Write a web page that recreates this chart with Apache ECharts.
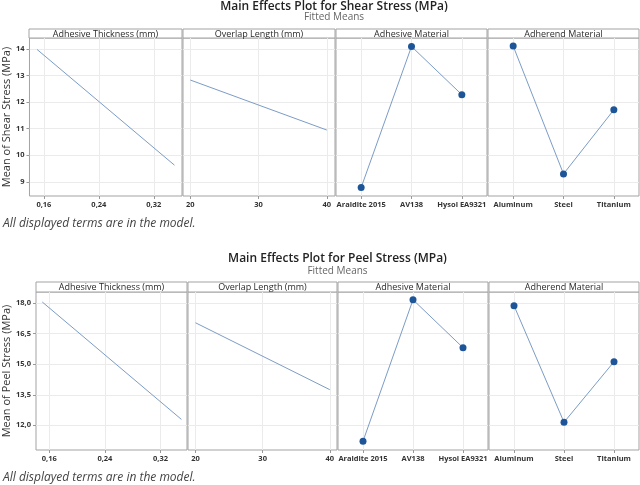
<!DOCTYPE html>
<html>
<head>
<meta charset="utf-8" />
<title>Main Effects Plot</title>
<script src="https://cdn.jsdelivr.net/npm/echarts@6/dist/echarts.min.js"></script>
<style>
  html, body { margin: 0; padding: 0; background: #fff; }
  #main { width: 640px; height: 485px; }
</style>
</head>
<body>
<div id="main"></div>
<script type="text/javascript">
// values
var thickness = [0.15, 0.35];
var overlap = [20, 40];
var adhesives = ['Araldite 2015', 'AV138', 'Hysol EA9321'];
var adherends = ['Aluminum', 'Steel', 'Titanium'];

var shearThickness = [13.98, 9.63];
var shearOverlap = [12.83, 10.95];
var shearAdhesive = [8.79, 14.09, 12.28];
var shearAdherend = [14.11, 9.30, 11.71];

var peelThickness = [18.05, 12.29];
var peelOverlap = [17.03, 13.75];
var peelAdhesive = [11.22, 18.16, 15.81];
var peelAdherend = [17.87, 12.15, 15.12];

var thicknessTicks = [0.16, 0.24, 0.32];
var overlapTicks = [20, 30, 40];
var shearTicks = [9, 10, 11, 12, 13, 14];
var peelTicks = [12.0, 13.5, 15.0, 16.5, 18.0];

var stripNames = ['Adhesive Thickness (mm)', 'Overlap Length (mm)', 'Adhesive Material', 'Adherend Material'];

var FONT = 'Open Sans';
var LINE = '#7c9cc6';
var DOT = '#1d5598';
var FRAME = '#a3a3a3';
var GRIDLINE = '#ebebeb';

function pairs(xs, ys) {
    return ys.map(function (y, i) { return [xs[i], y]; });
}
function idx(cats) {
    return cats.map(function (c, i) { return i; });
}
function comma(v, d) {
    return v.toFixed(d).replace('.', ',');
}

var blocks = [
    {
        title: 'Main Effects Plot for Shear Stress (MPa)',
        yName: 'Mean of Shear Stress (MPa)',
        yMin: 8.47, yMax: 14.41, yTicks: shearTicks, yDec: 0, nameGap: 17,
        stripTop: 29, top: 38, bottom: 196, titleY: 7, subY: 17, footY: 224,
        panels: [[29, 182], [183, 335], [336, 487], [488, 639]],
        xRanges: [[0.139, 0.361], [18.93, 41.2], [-0.5, 2.5], [-0.5, 2.5]],
        data: [shearThickness, shearOverlap, shearAdhesive, shearAdherend]
    },
    {
        title: 'Main Effects Plot for Peel Stress (MPa)',
        yName: 'Mean of Peel Stress (MPa)',
        yMin: 10.79, yMax: 18.54, yTicks: peelTicks, yDec: 1, nameGap: 21,
        stripTop: 282, top: 292, bottom: 450, titleY: 259, subY: 271, footY: 478,
        panels: [[36, 187], [188, 337], [338, 488], [489, 639]],
        xRanges: [[0.141, 0.358], [18.88, 41.08], [-0.5, 2.5], [-0.5, 2.5]],
        data: [peelThickness, peelOverlap, peelAdhesive, peelAdherend]
    }
];

var xTickSets = [thicknessTicks, overlapTicks, idx(adhesives), idx(adherends)];
var xFormatters = [
    function (v) { return comma(v, 2); },
    function (v) { return String(v); },
    function (v) { return adhesives[Math.round(v)]; },
    function (v) { return adherends[Math.round(v)]; }
];
var xValues = [thickness, overlap, idx(adhesives), idx(adherends)];

var grid = [], xAxis = [], yAxis = [], series = [], graphic = [];

blocks.forEach(function (b) {
    var plotLeft = b.panels[0][0], plotRight = b.panels[3][1];
    var mid = (plotLeft + plotRight) / 2;
    graphic.push({
        type: 'text', x: mid, y: b.titleY,
        style: { text: b.title, font: '600 12px "' + FONT + '"', fill: '#222', textAlign: 'center', textVerticalAlign: 'middle' }
    });
    graphic.push({
        type: 'text', x: mid, y: b.subY,
        style: { text: 'Fitted Means', font: '10px "' + FONT + '"', fill: '#666', textAlign: 'center', textVerticalAlign: 'middle' }
    });
    graphic.push({
        type: 'text', x: 3, y: b.footY,
        style: { text: 'All displayed terms are in the model.', font: 'italic 12px "' + FONT + '"', fill: '#444', textAlign: 'left', textVerticalAlign: 'middle' }
    });

    b.panels.forEach(function (p, k) {
        var gi = grid.length;
        grid.push({
            left: p[0], top: b.top, width: p[1] - p[0], height: b.bottom - b.top,
            show: true, borderColor: FRAME, borderWidth: 1, containLabel: false
        });
        graphic.push({
            type: 'rect',
            shape: { x: p[0], y: b.stripTop, width: p[1] - p[0], height: b.top - b.stripTop },
            style: { fill: '#fff', stroke: FRAME, lineWidth: 1 }
        });
        graphic.push({
            type: 'text', x: (p[0] + p[1]) / 2, y: (b.stripTop + b.top) / 2 + 0.5,
            style: { text: stripNames[k], font: '9px "' + FONT + '"', fill: '#2a2a2a', textAlign: 'center', textVerticalAlign: 'middle' }
        });

        xAxis.push({
            type: 'value', gridIndex: gi,
            min: b.xRanges[k][0], max: b.xRanges[k][1],
            axisLine: { show: false },
            axisTick: { show: true, length: 3, customValues: xTickSets[k], lineStyle: { color: '#999' } },
            axisLabel: {
                customValues: xTickSets[k], formatter: xFormatters[k],
                fontFamily: FONT, fontSize: 7.5, fontWeight: 'bold', color: '#333', margin: 5
            },
            splitLine: { show: true, lineStyle: { color: GRIDLINE, width: 1 } }
        });

        var first = k === 0;
        yAxis.push({
            type: 'value', gridIndex: gi,
            min: b.yMin, max: b.yMax,
            name: first ? b.yName : '',
            nameLocation: 'middle', nameGap: b.nameGap, nameRotate: 90,
            nameTextStyle: { fontFamily: FONT, fontSize: 11, color: '#333' },
            axisLine: { show: false },
            axisTick: { show: first, length: 3, customValues: b.yTicks, lineStyle: { color: '#999' } },
            axisLabel: {
                show: first, customValues: b.yTicks,
                formatter: function (v) { return comma(v, b.yDec); },
                fontFamily: FONT, fontSize: 7.5, fontWeight: 'bold', color: '#333', margin: 5
            },
            splitLine: { show: true, lineStyle: { color: GRIDLINE, width: 1 } }
        });

        var cat = k >= 2;
        series.push({
            type: 'line', xAxisIndex: gi, yAxisIndex: gi,
            data: pairs(xValues[k], b.data[k]),
            showSymbol: cat, symbol: 'circle', symbolSize: 7,
            lineStyle: { color: LINE, width: 1 },
            itemStyle: { color: DOT },
            emphasis: { disabled: true },
            silent: true
        });
    });
});

var myChart = echarts.init(document.getElementById('main'));
myChart.setOption({
    animation: false,
    backgroundColor: '#fff',
    grid: grid,
    xAxis: xAxis,
    yAxis: yAxis,
    series: series,
    graphic: graphic
});
</script>
</body>
</html>
